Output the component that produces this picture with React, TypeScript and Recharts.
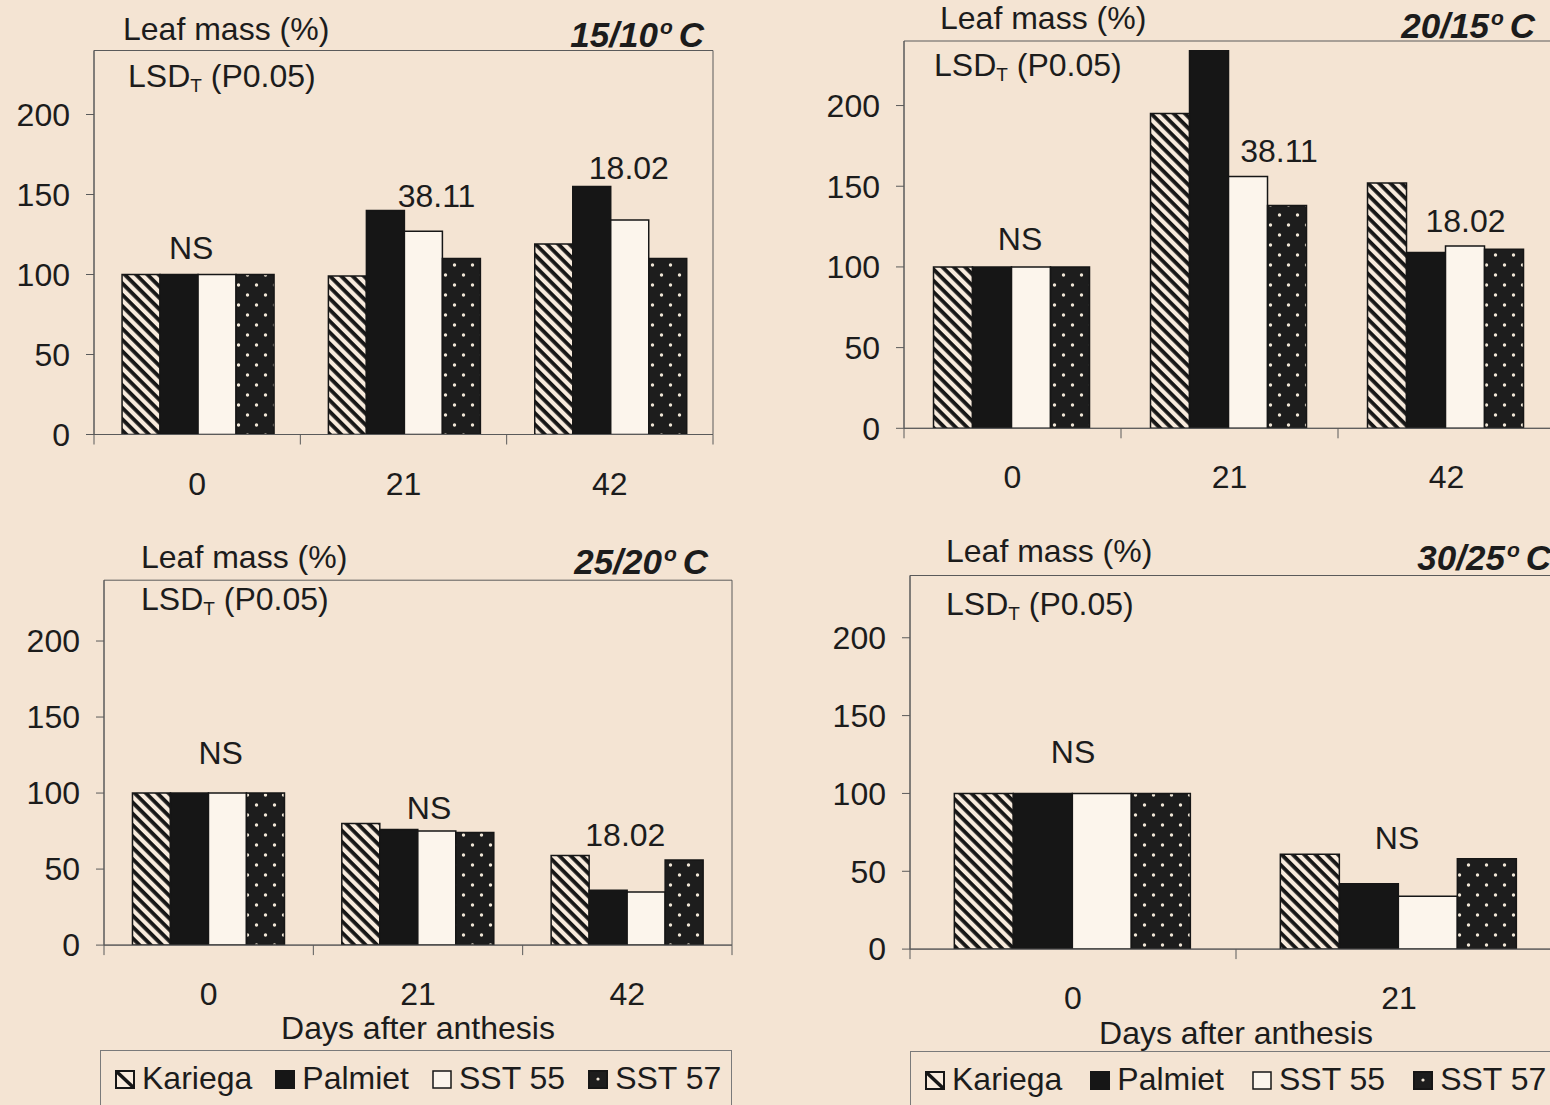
import React from 'react';
import { BarChart, Bar, XAxis, YAxis, ReferenceArea, ReferenceDot, Customized, Legend } from 'recharts';

// ---------- data ----------
const days3 = ['0', '21', '42'];
const days2 = ['0', '21'];
const seriesNames = ['Kariega', 'Palmiet', 'SST 55', 'SST 57'];
const yTicks = [0, 50, 100, 150, 200];

// 15/10 °C
const p1Kariega = [100, 99, 119];
const p1Palmiet = [100, 140, 155];
const p1Sst55 = [100, 127, 134];
const p1Sst57 = [100, 110, 110];
const p1Notes = ['NS', '38.11', '18.02'];

// 20/15 °C
const p2Kariega = [100, 195, 152];
const p2Palmiet = [100, 234, 109];
const p2Sst55 = [100, 156, 113];
const p2Sst57 = [100, 138, 111];
const p2Notes = ['NS', '38.11', '18.02'];

// 25/20 °C
const p3Kariega = [100, 80, 59];
const p3Palmiet = [100, 76, 36];
const p3Sst55 = [100, 75, 35];
const p3Sst57 = [100, 74, 56];
const p3Notes = ['NS', 'NS', '18.02'];

// 30/25 °C
const p4Kariega = [100, 61];
const p4Palmiet = [100, 42];
const p4Sst55 = [100, 34];
const p4Sst57 = [100, 58];
const p4Notes = ['NS', 'NS'];

// ---------- styles ----------
const BG = '#F4E4D3';
const INK = '#161616';
const AXIS = '#5a5a5a';
const TEXT = '#1c1c1c';
const FONT = '"Liberation Sans", Arial, Helvetica, sans-serif';
const FS = 32;

type Note = { level: number; dx: number };
type PanelCfg = {
  id: string;
  title: string;
  left: number;
  top: number;
  width: number;
  height: number;
  yAxisWidth: number;
  marginTop: number;
  marginRight: number;
  xAxisHeight: number;
  days: string[];
  series: number[][];
  notes: string[];
  notePos: Note[];
  leaf: [number, number];
  lsd: [number, number];
  titleEnd: [number, number];
  xLabelOffset?: number;
  legend?: { left: number; top: number; width: number; gap: number };
};

const panels: PanelCfg[] = [
  {
    id: 'a', title: '15/10', left: 0, top: 0, width: 760, height: 520,
    yAxisWidth: 94, marginTop: 50.5, marginRight: 47, xAxisHeight: 85.5,
    days: days3, series: [p1Kariega, p1Palmiet, p1Sst55, p1Sst57], notes: p1Notes,
    notePos: [{ level: 117, dx: -6 }, { level: 149.5, dx: 33 }, { level: 167, dx: 19 }],
    leaf: [123, 40], lsd: [128, 87], titleEnd: [704, 47],
  },
  {
    id: 'b', title: '20/15', left: 780, top: 0, width: 800, height: 520,
    yAxisWidth: 124, marginTop: 41, marginRight: 25, xAxisHeight: 91.7,
    days: days3, series: [p2Kariega, p2Palmiet, p2Sst55, p2Sst57], notes: p2Notes,
    notePos: [{ level: 117.5, dx: 7.5 }, { level: 172, dx: 49.5 }, { level: 129, dx: 19 }],
    leaf: [940, 29], lsd: [934, 76], titleEnd: [1535, 38],
  },
  {
    id: 'c', title: '25/20', left: 0, top: 520, width: 760, height: 585,
    yAxisWidth: 104, marginTop: 60.2, marginRight: 28, xAxisHeight: 159.9,
    days: days3, series: [p3Kariega, p3Palmiet, p3Sst55, p3Sst57], notes: p3Notes,
    notePos: [{ level: 127, dx: 12 }, { level: 90.7, dx: 11 }, { level: 72.7, dx: -2 }],
    leaf: [141, 568], lsd: [141, 610], titleEnd: [708, 574],
    xLabelOffset: 71,
    legend: { left: 100, top: 1050, width: 632, gap: 23 },
  },
  {
    id: 'd', title: '30/25', left: 780, top: 520, width: 800, height: 585,
    yAxisWidth: 130, marginTop: 55.5, marginRight: 18, xAxisHeight: 155.9,
    days: days2, series: [p4Kariega, p4Palmiet, p4Sst55, p4Sst57], notes: p4Notes,
    notePos: [{ level: 126.7, dx: 0 }, { level: 71.8, dx: -2 }],
    leaf: [946, 562], lsd: [946, 615], titleEnd: [1551, 570],
    xLabelOffset: 72,
    legend: { left: 910, top: 1051, width: 700, gap: 28 },
  },
];

const keys = ['k', 'p', 's55', 's57'];

const Defs = ({ id }: { id: string }) => (
  <defs>
    <pattern id={`hatch-${id}`} patternUnits="userSpaceOnUse" width={8} height={8} patternTransform="rotate(45)">
      <rect width={8} height={8} fill="#F8EBDD" />
      <rect width={8} height={3.8} fill={INK} />
    </pattern>
    <pattern id={`dots-${id}`} patternUnits="userSpaceOnUse" width={18} height={20}>
      <rect width={18} height={20} fill="#1d1d1d" />
      <circle cx={4.5} cy={5} r={1.7} fill="#EFE5D6" />
      <circle cx={13.5} cy={15} r={1.7} fill="#EFE5D6" />
    </pattern>
  </defs>
);

const fills = (id: string) => [`url(#hatch-${id})`, INK, '#FCF5EC', `url(#dots-${id})`];

const Swatch = ({ kind }: { kind: string }) => {
  const w = 20;
  const h = 19;
  let inner: React.ReactNode = null;
  if (kind === 'Kariega') {
    inner = (
      <>
        <rect x={1} y={1} width={w - 2} height={h - 2} fill="#F8EBDD" stroke={INK} strokeWidth={2} />
        <line x1={2} y1={2} x2={w - 2} y2={h - 2} stroke={INK} strokeWidth={3.5} />
      </>
    );
  } else if (kind === 'Palmiet') {
    inner = <rect x={1} y={1} width={w - 2} height={h - 2} fill={INK} stroke={INK} strokeWidth={2} />;
  } else if (kind === 'SST 55') {
    inner = <rect x={1} y={1} width={w - 2} height={h - 2} fill="#FCF5EC" stroke={INK} strokeWidth={1.5} />;
  } else {
    inner = (
      <>
        <rect x={1} y={1} width={w - 2} height={h - 2} fill="#1d1d1d" stroke={INK} strokeWidth={2} />
        <circle cx={10} cy={9} r={1.6} fill="#EFE5D6" />
      </>
    );
  }
  return (
    <svg width={w} height={h} style={{ display: 'block' }}>
      {inner}
    </svg>
  );
};

const makeLegend = (gap: number) => (props: any) => {
  const payload: any[] = props && props.payload && props.payload.length ? props.payload : seriesNames.map((n) => ({ value: n }));
  return (
    <div
      style={{
        boxSizing: 'border-box',
        width: '100%',
        height: 70,
        border: '1px solid #7a7a7a',
        display: 'flex',
        alignItems: 'baseline',
        paddingLeft: 14,
        paddingTop: 11,
        fontSize: FS,
        lineHeight: `${FS}px`,
        color: TEXT,
        fontFamily: FONT,
        whiteSpace: 'nowrap',
      }}
    >
      {payload.map((e: any, i: number) => (
        <span key={i} style={{ display: 'inline-flex', alignItems: 'baseline', marginRight: gap }}>
          <Swatch kind={String(e.value)} />
          <span style={{ marginLeft: 7 }}>{e.value}</span>
        </span>
      ))}
    </div>
  );
};

const makeTick = (bw: number, n: number) => (props: any) => {
  const { x, y, payload, index } = props;
  const l = x - bw / 2;
  const r = x + bw / 2;
  return (
    <g>
      <line x1={l} x2={l} y1={y} y2={y + 10} stroke={AXIS} strokeWidth={1} />
      {index === n - 1 && <line x1={r} x2={r} y1={y} y2={y + 10} stroke={AXIS} strokeWidth={1} />}
      <text x={x} y={y + 60} textAnchor="middle" fontSize={FS} fill={TEXT} fontFamily={FONT}>
        {payload.value}
      </text>
    </g>
  );
};

const Overlay = ({ cfg }: { cfg: PanelCfg }) => {
  const ox = cfg.left;
  const oy = cfg.top;
  return (
    <g fontFamily={FONT} fill={TEXT}>
      <text x={cfg.leaf[0] - ox} y={cfg.leaf[1] - oy} fontSize={FS}>
        Leaf mass (%)
      </text>
      <text x={cfg.lsd[0] - ox} y={cfg.lsd[1] - oy} fontSize={FS}>
        LSD
        <tspan fontSize={19} dy={5}>T</tspan>
        <tspan dy={-5}> (P0.05)</tspan>
      </text>
      <text
        x={cfg.titleEnd[0] - ox}
        y={cfg.titleEnd[1] - oy}
        fontSize={35}
        fontWeight="bold"
        fontStyle="italic"
        textAnchor="end"
      >
        {cfg.title}
        <tspan fontSize={21} dy={-13} dx={2}>o</tspan>
        <tspan dy={13} dx={6}>C</tspan>
      </text>
    </g>
  );
};

const Panel = ({ cfg }: { cfg: PanelCfg }) => {
  const data = cfg.days.map((d, i) => {
    const row: any = { day: d };
    keys.forEach((k, j) => {
      row[k] = cfg.series[j][i];
    });
    return row;
  });
  const plotW = cfg.width - cfg.yAxisWidth - cfg.marginRight;
  const bw = plotW / cfg.days.length;
  const f = fills(cfg.id);
  return (
    <div style={{ position: 'absolute', left: cfg.left, top: cfg.top, width: cfg.width, height: cfg.height }}>
      <BarChart
        width={cfg.width}
        height={cfg.height}
        data={data}
        margin={{ top: cfg.marginTop, right: cfg.marginRight, bottom: 0, left: 0 }}
        barCategoryGap="13.6%"
        barGap={0}
      >
        <Defs id={cfg.id} />
        <XAxis
          dataKey="day"
          type="category"
          height={cfg.xAxisHeight}
          axisLine={{ stroke: AXIS, strokeWidth: 1 }}
          tickLine={false}
          tickSize={0}
          tickMargin={0}
          interval={0}
          tick={makeTick(bw, cfg.days.length)}
          label={
            cfg.xLabelOffset !== undefined
              ? { value: 'Days after anthesis', position: 'insideTop', offset: cfg.xLabelOffset, fontSize: FS, fill: TEXT, fontFamily: FONT }
              : undefined
          }
        />
        <YAxis
          type="number"
          domain={[0, 240]}
          ticks={yTicks}
          width={cfg.yAxisWidth}
          axisLine={{ stroke: AXIS, strokeWidth: 1 }}
          tickLine={{ stroke: AXIS, strokeWidth: 1 }}
          tickSize={8}
          tickMargin={16}
          tick={{ fontSize: FS, fill: TEXT, fontFamily: FONT }}
          allowDataOverflow
        />
        <ReferenceArea y1={0} y2={240} fill="none" stroke={AXIS} strokeWidth={1} ifOverflow="visible" />
        {keys.map((k, j) => (
          <Bar
            key={k}
            dataKey={k}
            name={seriesNames[j]}
            fill={f[j]}
            stroke={INK}
            strokeWidth={1.5}
            isAnimationActive={false}
          />
        ))}
        {cfg.notes.map((t, i) => (
          <ReferenceDot
            key={`n${i}`}
            x={cfg.days[i]}
            y={cfg.notePos[i].level}
            r={0}
            ifOverflow="visible"
            shape={(p: any) => (
              <text
                x={p.cx + cfg.notePos[i].dx}
                y={p.cy + 11.5}
                textAnchor="middle"
                fontSize={FS}
                fill={TEXT}
                fontFamily={FONT}
              >
                {t}
              </text>
            )}
          />
        ))}
        <Customized component={<Overlay cfg={cfg} />} />
        {cfg.legend && (
          <Legend
            layout="horizontal"
            verticalAlign="middle"
            align="center"
            wrapperStyle={{
              left: cfg.legend.left - cfg.left,
              top: cfg.legend.top - cfg.top,
              width: cfg.legend.width,
              height: 70,
            }}
            content={makeLegend(cfg.legend.gap)}
          />
        )}
      </BarChart>
    </div>
  );
};

export default function App() {
  return (
    <div
      style={{
        position: 'absolute',
        left: 0,
        top: 0,
        width: 1550,
        height: 1105,
        overflow: 'hidden',
        background: BG,
        fontFamily: FONT,
      }}
    >
      {panels.map((p) => (
        <Panel key={p.id} cfg={p} />
      ))}
    </div>
  );
}
